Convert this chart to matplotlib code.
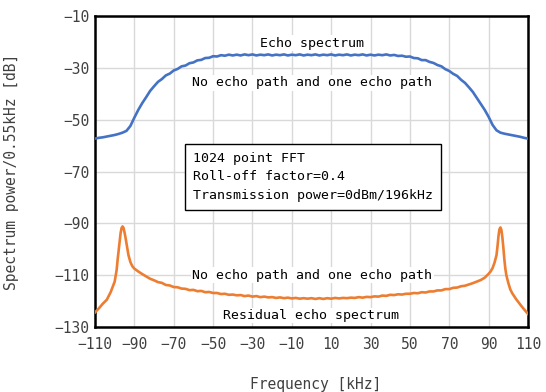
import matplotlib
matplotlib.use("Agg")
import matplotlib.pyplot as plt

plt.rcParams["font.family"] = ["DejaVu Sans Mono", "Liberation Mono"]
plt.rcParams["axes.unicode_minus"] = True

# echo spectrum (blue), every 2 kHz
echo_freq = list(range(-110, 111, 2))
echo_db = [
    -57.3, -57.0, -56.8, -56.5, -56.2, -55.9, -55.5, -55.0, -54.3, -52.4,
    -49.2, -46.2, -43.6, -41.3, -38.9, -37.1, -35.4, -34.3, -32.9, -32.2,
    -31.0, -30.4, -29.4, -29.1, -28.2, -27.9, -27.1, -26.9, -26.2, -26.1,
    -25.5, -25.6, -25.1, -25.3, -24.9, -25.2, -24.9, -25.2, -24.8, -25.1,
    -24.8, -25.2, -24.9, -25.1, -24.8, -25.2, -24.9, -25.1, -24.8, -25.2,
    -24.9, -25.1, -24.8, -25.2, -24.9, -25.1, -24.8, -25.2, -24.9, -25.1,
    -24.8, -25.2, -24.9, -25.1, -24.8, -25.2, -24.9, -25.1, -24.8, -25.2,
    -24.9, -25.2, -24.9, -25.1, -24.8,
    -25.2, -25.0, -25.4, -25.3, -25.7, -25.6, -26.2, -26.3,
    -27.0, -27.0, -27.7, -28.1, -28.9, -29.4, -30.5, -31.2, -32.3, -33.1,
    -34.6, -35.8, -37.5, -39.3, -41.6, -43.9, -46.2, -48.9, -52.0, -54.1,
    -55.0, -55.4, -55.7, -56.0, -56.3, -56.6, -57.0, -57.3,
]

# residual echo spectrum (orange)
resid_freq = [
    -110, -108, -106, -104, -102, -100, -99, -98.5, -98, -97.5, -97, -96.5,
    -96, -95.5, -95, -94.5, -94, -93.5, -93, -92, -91, -90, -88, -86, -84,
    -82, -80, -78, -76, -74, -72, -70, -68, -66, -64, -62, -60, -58, -56,
    -54, -52, -50, -48, -46, -44, -42, -40, -38, -36, -34, -32, -30, -28,
    -26, -24, -22, -20, -18, -16, -14, -12, -10, -8, -6, -4, -2, 0, 2, 4,
    6, 8, 10, 12, 14, 16, 18, 20, 22, 24, 26, 28, 30, 32, 34, 36, 38, 40,
    42, 44, 46, 48, 50, 52, 54, 56, 58, 60, 62, 64, 66, 68, 70, 72, 74, 76,
    78, 80, 82, 84, 86, 88, 90, 91, 92, 93, 94, 94.5, 95, 95.5, 96, 96.5,
    97, 97.5, 98, 98.5, 99, 100, 101, 102, 104, 106, 108, 110,
]
resid_db = [
    -124.4, -122.8, -121.0, -119.5, -116.5, -112.5, -108.0, -104.0, -100.5,
    -96.8, -93.8, -91.8, -91.2, -91.8, -93.5, -95.5, -97.8, -100.0, -102.3,
    -105.0, -106.6, -107.5, -108.6, -109.6, -110.5, -111.4, -112.0, -112.7,
    -113.0, -113.8, -114.0, -114.6, -114.7, -115.2, -115.3, -115.8, -115.7,
    -116.2, -116.1, -116.6, -116.5, -116.9, -116.9, -117.3, -117.2, -117.6,
    -117.5, -117.8, -117.7, -118.1, -117.9, -118.3, -118.1, -118.5, -118.3,
    -118.6, -118.5, -118.8, -118.6, -118.9, -118.7, -119.0, -118.8, -119.1,
    -118.9, -119.1, -118.9, -119.2, -118.9, -119.2, -118.9, -119.1, -118.8,
    -119.0, -118.8, -118.9, -118.7, -118.8, -118.5, -118.7, -118.4, -118.5,
    -118.2, -118.3, -117.9, -118.0, -117.6, -117.7, -117.4, -117.5, -117.2,
    -117.2, -116.9, -117.0, -116.6, -116.7, -116.3, -116.3, -115.9, -115.9,
    -115.4, -115.4, -114.9, -114.8, -114.3, -114.1, -113.6, -113.1, -112.5,
    -111.9, -111.0, -109.5, -108.6, -107.3, -105.2, -102.3, -99.0, -95.0,
    -92.3, -91.6, -92.6, -95.5, -99.5, -104.0, -107.5, -110.0, -113.0,
    -115.5, -117.0, -119.3, -121.3, -123.2, -125.0,
]

x_ticks = list(range(-110, 111, 20))
y_ticks = list(range(-130, -9, 20))

fig = plt.figure(figsize=(5.46, 3.92), dpi=100)
ax = fig.add_axes([0.174, 0.166, 0.793, 0.793])

ax.plot(echo_freq, echo_db, color="#4472C4", lw=1.9, zorder=3)
ax.plot(resid_freq, resid_db, color="#ED7D31", lw=1.9, zorder=3)

ax.set_xlim(-110, 110)
ax.set_ylim(-130, -10)
ax.set_xticks(x_ticks)
ax.set_yticks(y_ticks)
ax.grid(True, color="#D9D9D9", lw=1.0, zorder=0)
ax.set_axisbelow(True)
ax.tick_params(length=0, labelsize=10.5, colors="#404040")
ax.tick_params(axis="x", pad=7)
ax.tick_params(axis="y", pad=4)
for sp in ax.spines.values():
    sp.set_linewidth(1.8)
    sp.set_color("black")

ax.set_xlabel("Frequency [kHz]", fontsize=10.5, color="#404040")
ax.set_ylabel("Spectrum power/0.55kHz [dB]", fontsize=10.5, color="#404040")
ax.xaxis.set_label_coords(0.51, -0.16)
ax.yaxis.set_label_coords(-0.175, 0.5)

txt = dict(fontsize=9.5, ha="center", va="center", zorder=4)
bg = dict(facecolor="white", edgecolor="none", pad=1.0)
ax.text(0.5, -20.5, "Echo spectrum", bbox=bg, **txt)
ax.text(0.5, -35.8, "No echo path and one echo path", bbox=bg, **txt)
ax.text(0.5, -110.1, "No echo path and one echo path", bbox=bg, **txt)
ax.text(0.0, -125.6, "Residual echo spectrum", bbox=bg, **txt)

ax.text(-60.3, -72.0, "1024 point FFT\nRoll-off factor=0.4\nTransmission power=0dBm/196kHz",
        fontsize=9.5, ha="left", va="center", linespacing=1.55, zorder=4,
        bbox=dict(facecolor="white", edgecolor="black", lw=1.0, boxstyle="square,pad=0.6"))

fig.savefig("out.png", dpi=100)
